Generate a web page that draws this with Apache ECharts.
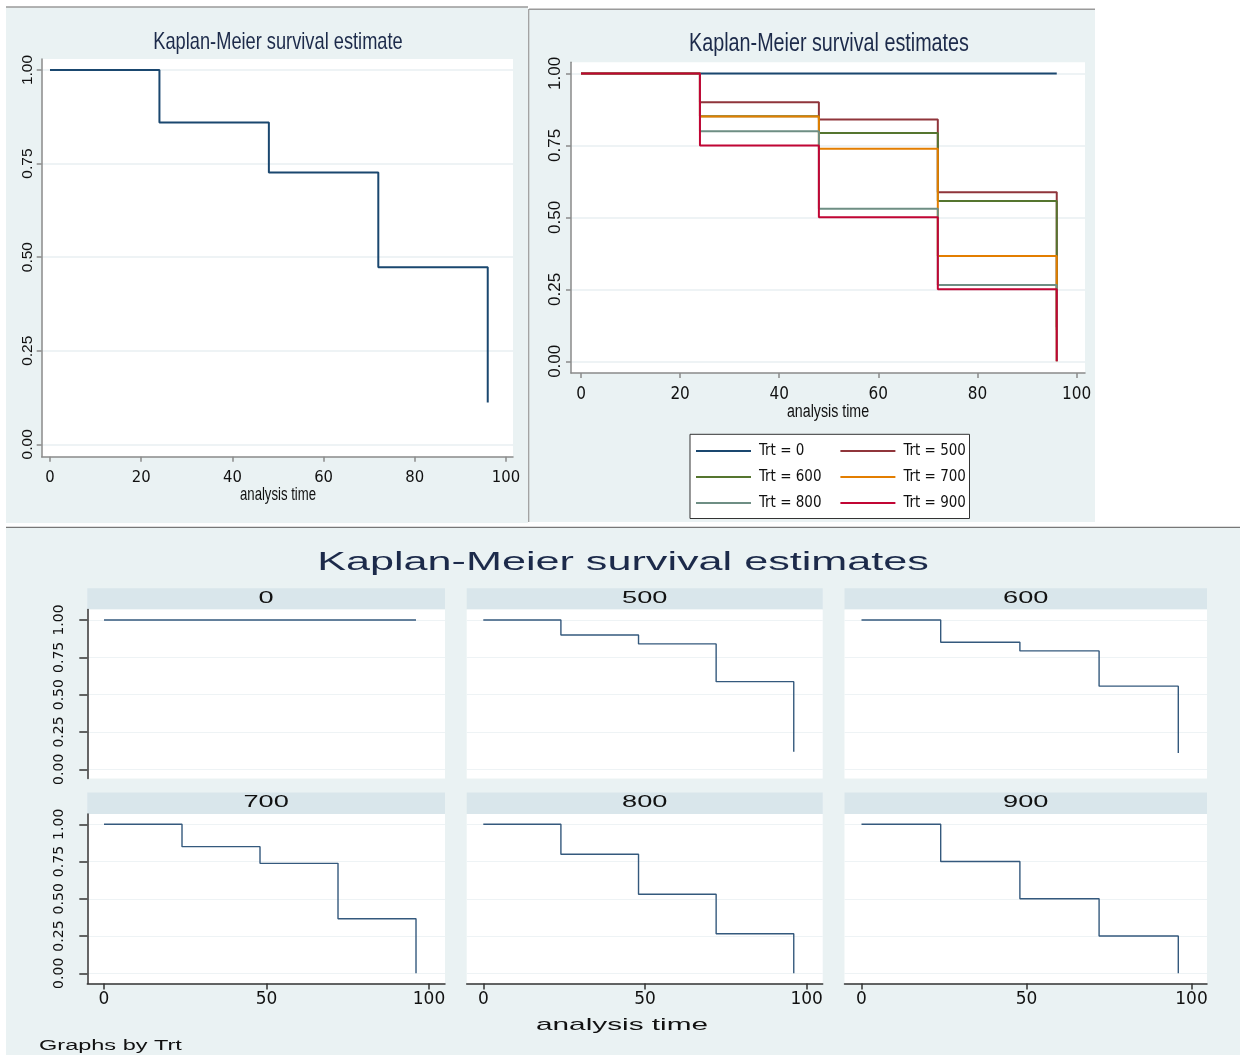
<!DOCTYPE html>
<html><head><meta charset="utf-8">
<script src="https://cdn.jsdelivr.net/npm/echarts@6/dist/echarts.min.js"></script>
<style>html,body{margin:0;padding:0;background:#fff}#c{width:1247px;height:1055px}</style>
</head><body><div id="c"></div>
<script>
// ---- data ----
const times = [0, 24, 48, 72, 96];
const overall = [1, 0.86, 0.726, 0.473, 0.112];
const trt0 = [1, 1, 1, 1, 1];
const trt500 = [1, 0.90, 0.84, 0.587, 0.118];
const trt600 = [1, 0.851, 0.793, 0.557, 0.109];
const trt700 = [1, 0.85, 0.738, 0.366, 0];
const trt800 = [1, 0.799, 0.530, 0.265, 0];
const trt900 = [1, 0.75, 0.5, 0.25, 0];
const groupNames = ['0', '500', '600', '700', '800', '900'];
const groupValues = [trt0, trt500, trt600, trt700, trt800, trt900];
const yTicks = [0, 0.25, 0.5, 0.75, 1];
const xTicksTop = [0, 20, 40, 60, 80, 100];
const xTicksBottom = [0, 50, 100];
const titleTop1 = 'Kaplan-Meier survival estimate';
const titleTop2 = 'Kaplan-Meier survival estimates';
const titleBottom = 'Kaplan-Meier survival estimates';
const xName = 'analysis time';
const byNote = 'Graphs by Trt';

// ---- styles ----
const colors = ['#1a476f', '#90353b', '#55752f', '#e37e00', '#6e8e84', '#c10534'];
const NARROW = "'Liberation Sans Narrow','Arial Narrow','DejaVu Sans Condensed',sans-serif";
const SANS = "'Liberation Sans',Arial,sans-serif";
const WIDE = "'DejaVu Sans',Verdana,sans-serif";
const panelBg = '#eaf2f3';
const stripBg = '#d9e6eb';
const gridCol = '#e8eff2';
const pairs = v => times.map((t, i) => [t, v[i]]);
const fmt2 = v => Number(v).toFixed(2);

const grids = [], xAxes = [], yAxes = [], series = [], graphics = [];

function stretchText(text, x, y, font, scaleX, fill, align) {
  return {type: 'text', z: 5, x: x, y: y, scaleX: scaleX,
    style: {text: text, font: font, fill: fill, align: align || 'center', verticalAlign: 'middle',
      textAlign: align || 'center', textVerticalAlign: 'middle'}};
}

function topAxes(gi, xmin, xmax, ymin, ymax, xfs, yfs, xmargin, ymargin) {
  const ax = {color: '#8a8a8a', width: 1.5};
  xAxes.push({gridIndex: gi, type: 'value', min: xmin, max: xmax,
    axisLine: {onZero: false, lineStyle: ax},
    axisTick: {length: 5, lineStyle: ax, customValues: xTicksTop},
    axisLabel: {customValues: xTicksTop, fontFamily: NARROW, fontSize: xfs, color: '#111', margin: xmargin},
    splitLine: {show: false}});
  yAxes.push({gridIndex: gi, type: 'value', min: ymin, max: ymax,
    axisLine: {onZero: false, lineStyle: ax},
    axisTick: {length: 5, lineStyle: ax, customValues: yTicks},
    axisLabel: {customValues: yTicks, formatter: fmt2, rotate: 90, fontFamily: SANS, fontSize: yfs, color: '#111', margin: ymargin},
    splitLine: {show: true, lineStyle: {color: gridCol, width: 1.5}}});
}

// top-left
grids.push({left: 41.7, top: 59, width: 471.3, height: 397.7, show: true, backgroundColor: '#fff', borderWidth: 0});
topAxes(0, -1.82, 101.54, -0.0331, 1.0294, 16.5, 15.5, 13, 6);
series.push({name: 'overall', type: 'line', step: 'end', xAxisIndex: 0, yAxisIndex: 0,
  data: pairs(overall), showSymbol: false, lineStyle: {color: colors[0], width: 2}, itemStyle: {color: colors[0]}});

// top-right
grids.push({left: 571, top: 62.3, width: 514, height: 310.7, show: true, backgroundColor: '#fff', borderWidth: 0});
topAxes(1, -2.02, 101.7, -0.0406, 1.0386, 17, 17, 13, 7);
groupNames.forEach((g, i) => {
  series.push({name: 'Trt = ' + g, type: 'line', step: 'end', xAxisIndex: 1, yAxisIndex: 1,
    data: pairs(groupValues[i]), showSymbol: false,
    lineStyle: {color: colors[i], width: 2}, itemStyle: {color: colors[i]}});
});

// bottom small multiples
const colLeft = [87.3, 466.7, 844.5], colW = [357.7, 356, 362.5];
const colXmin = [-5.14, -5.13, -5.15], colXmax = [104.92, 104.95, 104.7];
const rowTop = [609.5, 814], rowH = [169, 169.5];
const rowYmin = [-0.0616, -0.0685], rowYmax = [1.0703, 1.0691];
const stripTop = [588.2, 792.6], stripH = 21.4;
groupNames.forEach((g, i) => {
  const r = Math.floor(i / 3), c = i % 3, gi = grids.length;
  grids.push({left: colLeft[c], top: rowTop[r], width: colW[c], height: rowH[r], show: true, backgroundColor: '#fff', borderWidth: 0});
  const ax = {color: '#333', width: 1.5};
  xAxes.push({gridIndex: gi, type: 'value', min: colXmin[c], max: colXmax[c],
    axisLine: {show: r === 1, onZero: false, lineStyle: ax},
    axisTick: {show: r === 1, length: 6, lineStyle: ax, customValues: xTicksBottom},
    axisLabel: {show: r === 1, customValues: xTicksBottom, fontFamily: WIDE, fontSize: 17, color: '#111', margin: 8},
    splitLine: {show: false}});
  yAxes.push({gridIndex: gi, type: 'value', min: rowYmin[r], max: rowYmax[r],
    axisLine: {show: c === 0, onZero: false, lineStyle: ax},
    axisTick: {show: c === 0, length: 8, lineStyle: ax, customValues: yTicks},
    axisLabel: {show: c === 0, customValues: yTicks, formatter: fmt2, rotate: 90, fontFamily: WIDE, fontSize: 14, color: '#111', margin: 21},
    splitLine: {show: true, lineStyle: {color: '#eef3f5', width: 1.2}}});
  series.push({name: 'panel ' + g, type: 'line', step: 'end', xAxisIndex: gi, yAxisIndex: gi,
    data: pairs(groupValues[i]), showSymbol: false,
    lineStyle: {color: '#34597d', width: 1.4}, itemStyle: {color: '#34597d'}});
  graphics.push({type: 'rect', z: -10, shape: {x: colLeft[c], y: stripTop[r], width: colW[c], height: stripH}, style: {fill: stripBg}});
  graphics.push(stretchText(g, colLeft[c] + colW[c] / 2, stripTop[r] + stripH / 2 - 1, '17px ' + SANS, 1.6, '#111'));
});

// panel backgrounds & borders
graphics.unshift(
  {type: 'rect', z: -20, shape: {x: 6, y: 7, width: 522, height: 516}, style: {fill: panelBg}},
  {type: 'rect', z: -20, shape: {x: 529, y: 9, width: 566, height: 513}, style: {fill: panelBg}},
  {type: 'rect', z: -20, shape: {x: 6, y: 527, width: 1234, height: 528}, style: {fill: panelBg}},
  {type: 'line', z: -5, shape: {x1: 6, y1: 7, x2: 528, y2: 7}, style: {stroke: '#9a9a9a', lineWidth: 1.5}},
  {type: 'line', z: -5, shape: {x1: 529, y1: 9.3, x2: 1095, y2: 9.3}, style: {stroke: '#9a9a9a', lineWidth: 1.5}},
  {type: 'line', z: -5, shape: {x1: 528.7, y1: 9, x2: 528.7, y2: 522}, style: {stroke: '#9a9a9a', lineWidth: 1.2}},
  {type: 'line', z: -5, shape: {x1: 6, y1: 527.3, x2: 1240, y2: 527.3}, style: {stroke: '#777', lineWidth: 1.2}},
  {type: 'rect', z: -10, shape: {x: 690, y: 434.3, width: 279.5, height: 84.2}, style: {fill: '#fff', stroke: '#333', lineWidth: 1}}
);
graphics.push(
  // top titles and axis names (condensed by horizontal scaling)
  stretchText(titleTop1, 278, 42, '24px ' + SANS, 0.76, '#1c2a4a'),
  stretchText(titleTop2, 829, 44, '25px ' + SANS, 0.79, '#1c2a4a'),
  stretchText(xName, 278, 495, '18px ' + SANS, 0.73, '#111'),
  stretchText(xName, 828, 412, '18px ' + SANS, 0.79, '#111'),
  // bottom (wide) texts
  stretchText(titleBottom, 623, 563, '26px ' + SANS, 1.66, '#1c2a4a'),
  stretchText(xName, 622, 1025, '17px ' + SANS, 1.75, '#111'),
  stretchText(byNote, 39, 1046.5, '14px ' + SANS, 1.68, '#111', 'left')
);

const legendBase = {orient: 'vertical', top: 438, icon: 'rect', itemWidth: 55, itemHeight: 2, itemGap: 0, padding: 0,
  selectedMode: false, textStyle: {fontFamily: NARROW, fontSize: 15, lineHeight: 26, color: '#111', padding: [0, 0, 0, 3]}};

const option = {
  animation: false,
  backgroundColor: '#fff',
  legend: [
    Object.assign({}, legendBase, {left: 696, data: ['Trt = 0', 'Trt = 600', 'Trt = 800']}),
    Object.assign({}, legendBase, {left: 840.4, data: ['Trt = 500', 'Trt = 700', 'Trt = 900']})
  ],
  grid: grids, xAxis: xAxes, yAxis: yAxes, series: series,
  graphic: {elements: graphics}
};
const chart = echarts.init(document.getElementById('c'), null, {renderer: 'canvas'});
chart.setOption(option);
</script></body></html>
